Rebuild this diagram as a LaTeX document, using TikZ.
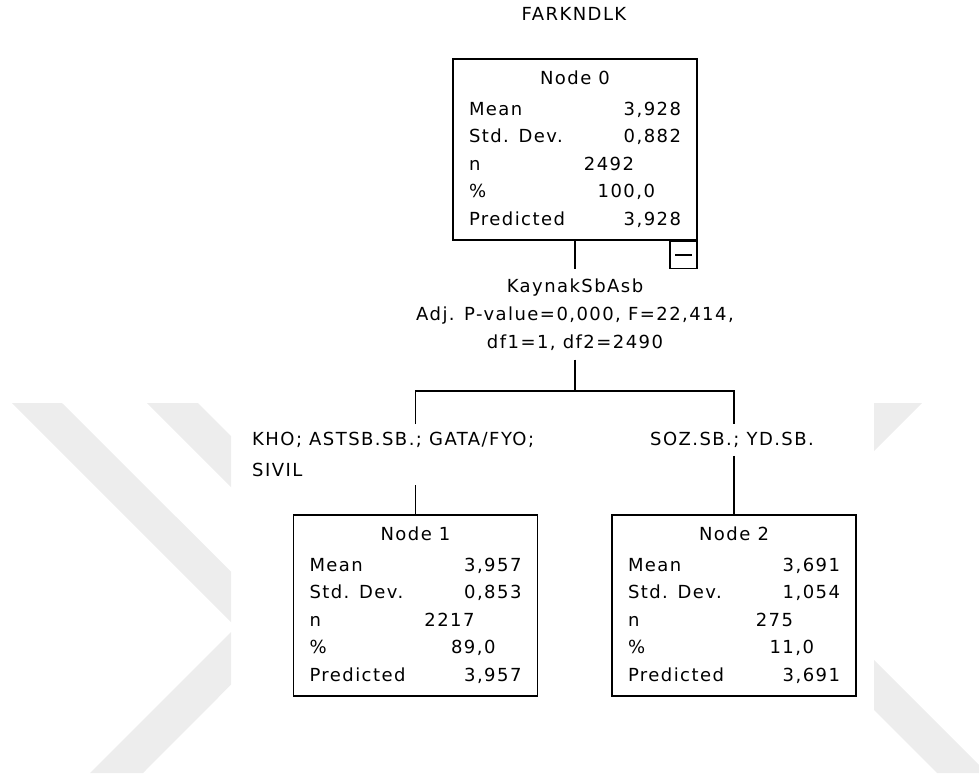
\documentclass[tikz,border=0pt]{standalone}
\usepackage{fontspec}
\setmainfont{DejaVu Sans}[LetterSpace=8]
\usepackage{xcolor}
\usepackage{tikz}
\usetikzlibrary{positioning,calc}

\definecolor{markgray}{gray}{0.93}

\tikzset{
  treebox/.style={draw, line width=1.4pt, minimum width=244pt, minimum height=181pt, inner sep=0pt},
  togglebox/.style={draw, line width=1.4pt, minimum size=27pt, inner sep=0pt},
  splitlabel/.style={align=center, inner xsep=2pt, inner ysep=9pt, font=\fontsize{18}{28}\selectfont},
  catlabel/.style={align=left, inner xsep=8pt, inner ysep=8pt, font=\fontsize{18}{31}\selectfont},
  link/.style={line width=1.4pt},
}

% one row of a node box: label left, value right
\newcommand{\statrow}[3][0pt]{\makebox[212pt]{#2\hfill #3\hspace{#1}}}
\newcommand{\nodestats}[6]{%
  \renewcommand{\arraystretch}{1.25}%
  \begin{tabular}{@{}l@{}}
    \makebox[212pt]{#1}\\[3pt]
    \statrow{Mean}{#2}\\
    \statrow{Std. Dev.}{#3}\\
    \statrow[47pt]{n}{#4}\\
    \statrow[26pt]{\%}{#5}\\
    \statrow{Predicted}{#6}
  \end{tabular}}

\begin{document}
\begin{tikzpicture}[x=1pt, y=-1pt, font=\fontsize{18}{22}\selectfont]

    \useasboundingbox (0,0) rectangle (979,778);

    % Watermark
    \begin{scope}
      \clip (0,403) rectangle (231,773) (874,403) rectangle (979,773);
      \fill[markgray] (12,403) -- (62,403) -- (287.5,628) -- (143,773) -- (90,773) -- (236,627) -- cycle;
      \fill[markgray] (147,403) -- (198,403) -- (300,505) -- (249,505) -- cycle;
      \fill[markgray] (872,403) -- (922,403) -- (800,525) -- (750,525) -- cycle;
      \fill[markgray] (800,586) -- (1100,886) -- (1100,936) -- (800,636) -- cycle;
    \end{scope}

    % Target
    \node (title) at (574,14) {FARKNDLK};

    % Root
    \node[treebox] (n0) at (575,149.5) {\nodestats{Node 0}{3,928}{0,882}{2492}{100,0}{3,928}};
    \node[togglebox, anchor=north east] (n0btn) at (n0.south east) {\rule{17pt}{1.2pt}};

    % Split
    \node[splitlabel] (split) at (575,314.5) {KaynakSbAsb\\Adj. P-value=0,000, F=22,414,\\df1=1, df2=2490};
    \coordinate (fork) at (575,391);

    % Children
    \node[treebox] (n1) at (415.5,605.5) {\nodestats{Node 1}{3,957}{0,853}{2217}{89,0}{3,957}};
    \node[treebox] (n2) at (734,605.5) {\nodestats{Node 2}{3,691}{1,054}{275}{11,0}{3,691}};

    % Categories
    \node[catlabel, anchor=north west] (lab1) at (244,424) {KHO; ASTSB.SB.; GATA/FYO;\\SIVIL};
    \node[catlabel, inner xsep=2pt] (lab2) at (732,440) {SOZ.SB.; YD.SB.};

    % Links
    \draw[link] (n0.south) -- (split.north);
    \draw[link] (split.south) -- (fork);
    \draw[link] (n1.north |- lab1.north) -- (n1.north |- fork) -- (n2.north |- fork) -- (n2.north |- lab2.north);
    \draw[link] (n1.north |- lab1.south) -- (n1.north);
    \draw[link] (n2.north |- lab2.south) -- (n2.north);

\end{tikzpicture}
\end{document}
